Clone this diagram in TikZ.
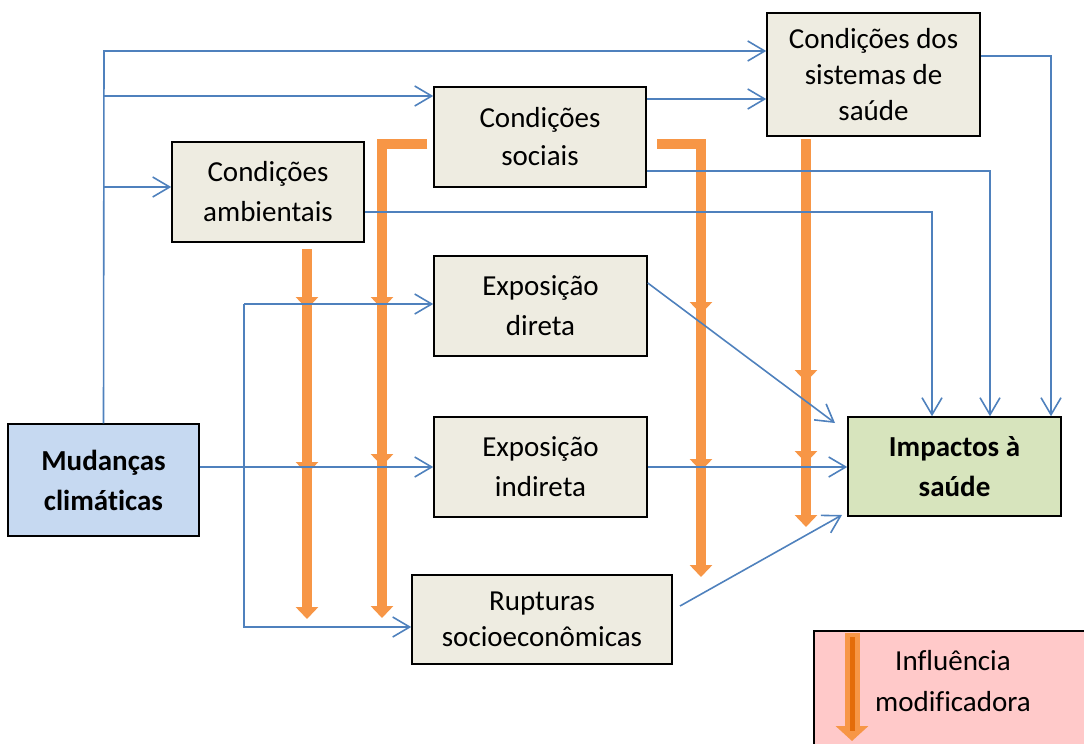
\documentclass[tikz,border=0pt]{standalone}
\usepackage{fontspec}
\setmainfont{Carlito}[Ligatures=CommonOff]
\usetikzlibrary{arrows.meta}
\definecolor{beige}{HTML}{EEECE1}
\definecolor{mudfill}{HTML}{C6D9F1}
\definecolor{impfill}{HTML}{D7E4BD}
\definecolor{legfill}{HTML}{FFC9C9}
\definecolor{blueL}{HTML}{4F81BD}
\definecolor{orangeL}{HTML}{F79646}
\definecolor{orangeD}{HTML}{E46C0A}
\begin{document}
\begin{tikzpicture}[x=1pt,y=-1pt,
  box/.style={draw=black, line width=1.5pt, fill=beige, align=center, inner sep=0pt,
              font=\fontsize{29}{40}\selectfont},
  conn/.style={draw=blueL, line width=1.6pt},
  arr/.style={conn, -{Straight Barb[length=17pt,width=20pt]}},
  infl/.style={draw=orangeL, line width=10pt, line join=miter, line cap=butt,
               -{Triangle[width=22pt,length=12pt]}}
]
\useasboundingbox (0,0) rectangle (1084,744);
\clip (0,0) rectangle (1084,744);

% boxes
\node[box, fill=mudfill, minimum width=191pt, minimum height=112pt] (mud) at (103.5,480)
  {\textbf{Mudanças}\\\textbf{climáticas}};
\node[box, minimum width=192pt, minimum height=100pt] (amb) at (268,192)
  {Condições\\ambientais};
\node[box, minimum width=212pt, minimum height=100pt, font=\fontsize{29}{38}\selectfont] (soc) at (540,137)
  {Condições\\sociais};
\node[box, minimum width=213pt, minimum height=123pt, font=\fontsize{29}{36}\selectfont] (sist) at (873.5,74.5)
  {Condições dos\\sistemas de\\saúde};
\node[box, minimum width=213pt, minimum height=100pt] (dir) at (540.5,306)
  {Exposição\\direta};
\node[box, minimum width=213pt, minimum height=100pt] (ind) at (540.5,467)
  {Exposição\\indireta};
\node[box, minimum width=260pt, minimum height=89pt, font=\fontsize{29}{36}\selectfont] (rup) at (542,619.5)
  {Rupturas\\socioeconômicas};
\node[box, fill=impfill, minimum width=213pt, minimum height=99pt] (imp) at (954.5,466.5)
  {\textbf{Impactos à}\\\textbf{saúde}};

% legend
\node[draw=black, line width=1.5pt, fill=legfill, minimum width=300pt, minimum height=140pt,
      anchor=north west, inner sep=0pt] (leg) at (813,630) {};
\node[align=center, inner sep=0pt, font=\fontsize{29}{41}\selectfont] (legtext) at (953,681)
  {Influência\\modificadora};
\coordinate (la) at (852,633);
\coordinate (lb) at (852,741);
\coordinate (lc) at (852,637);
\coordinate (ld) at (852,731);
\draw[draw=orangeL, line width=15pt, -{Triangle[width=32pt,length=15pt]}] (la) -- (lb);
\draw[draw=orangeD, line width=5pt] (lc) -- (ld);

% orange influence arrows
\coordinate (o1s) at (307,249);
\draw[infl] (o1s) -- (307,309);
\draw[infl] (o1s) -- (307,474);
\draw[infl] (o1s) -- (307,619);

\coordinate (o2s) at (427,144);
\coordinate (o2c) at (382,144);
\draw[infl] (o2s) -- (o2c) -- (382,309);
\draw[infl] (o2s) -- (o2c) -- (382,466);
\draw[infl] (o2s) -- (o2c) -- (382,618);

\coordinate (o3s) at (657,144);
\coordinate (o3c) at (701,144);
\draw[infl] (o3s) -- (o3c) -- (701,314);
\draw[infl] (o3s) -- (o3c) -- (701,471);
\draw[infl] (o3s) -- (o3c) -- (701,577);

\coordinate (o4s) at (806,139);
\draw[infl] (o4s) -- (806,382);
\draw[infl] (o4s) -- (806,463);
\draw[infl] (o4s) -- (806,527);

% blue connectors
\coordinate (t1) at (104,51);
\coordinate (t2) at (104,96);
\coordinate (t3) at (104,187);
\draw[arr] (mud.north) -- (t1) -- (t1 -| sist.west);
\draw[arr] (t2) -- (t2 -| soc.west);
\draw[arr] (t3) -- (t3 -| amb.west);

\draw[arr] (soc.east |- 0,99) -- (sist.west |- 0,99);
\coordinate (k1) at (990,171);
\draw[arr] (soc.east |- k1) -- (k1) -- (imp.north -| k1);
\coordinate (k2) at (932,212);
\draw[arr] (amb.east |- k2) -- (k2) -- (imp.north -| k2);
\coordinate (k3) at (1051,56);
\draw[arr] (sist.east |- k3) -- (k3) -- (imp.north -| k3);

\coordinate (u1) at (244,304);
\coordinate (u2) at (244,627);
\draw[arr] (u1) -- (u1 -| dir.west);
\draw[arr] (u1) -- (u2) -- (u2 -| rup.west);

\draw[arr] (mud.east |- ind.west) -- (ind.west);
\draw[arr] (ind.east) -- (imp.west |- ind.east);

\coordinate (d1) at (835,423);
\draw[arr] (dir.east |- 0,283) -- (d1);
\coordinate (r0) at (680,606);
\coordinate (r1) at (842,515);
\draw[arr] (r0) -- (r1);
\end{tikzpicture}
\end{document}
